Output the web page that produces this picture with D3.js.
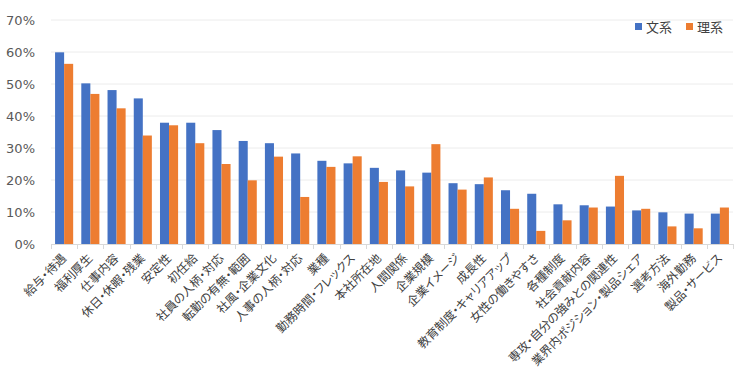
<!DOCTYPE html>
<html>
<head>
<meta charset="utf-8">
<script src="https://cdn.jsdelivr.net/npm/d3@7"></script>
<style>
  body { margin: 0; background: #fff; }
  svg { display: block; }
  .xlab { font-feature-settings: "palt"; }
</style>
</head>
<body>
<svg width="750" height="392"></svg>
<script>
// categories and values (%)
var categories = ["給与・待遇", "福利厚生", "仕事内容", "休日・休暇・残業", "安定性", "初任給",
  "社員の人柄・対応", "転勤の有無・範囲", "社風・企業文化", "人事の人柄・対応", "業種",
  "勤務時間・フレックス", "本社所在地", "人間関係", "企業規模", "企業イメージ", "成長性",
  "教育制度・キャリアアップ", "女性の働きやすさ", "各種制度", "社会貢献内容",
  "専攻・自分の強みとの関連性", "業界内ポジション・製品シェア", "選考方法", "海外勤務", "製品・サービス"];
var bunkei = [59.9, 50.2, 48.1, 45.5, 37.9, 37.9, 35.6, 32.2, 31.5, 28.3, 26.0, 25.2, 23.8,
  23.0, 22.3, 19.0, 18.7, 16.8, 15.7, 12.4, 12.1, 11.7, 10.5, 9.9, 9.5, 9.5];
var rikei = [56.3, 46.9, 42.4, 33.9, 37.1, 31.5, 25.0, 19.9, 27.3, 14.7, 24.1, 27.4, 19.4,
  18.0, 31.2, 17.0, 20.8, 11.0, 4.1, 7.4, 11.4, 21.3, 11.0, 5.5, 4.9, 11.4];
var seriesNames = ["文系", "理系"];
var colors = ["#4472c4", "#ed7d31"];
var yTicks = [0, 10, 20, 30, 40, 50, 60, 70];

var svg = d3.select("svg"),
  margin = {left: 51, right: 17, top: 20, bottom: 148};
var width = 750 - margin.left - margin.right,
  height = 392 - margin.top - margin.bottom;

var g = svg.append("g").attr("transform", "translate(" + margin.left + "," + margin.top + ")");

var x = d3.scaleBand().domain(categories).range([0, width]).paddingInner(0.31).paddingOuter(0.155);
var x1 = d3.scaleBand().domain(seriesNames).range([0, x.bandwidth()]);
var y = d3.scaleLinear().domain([0, 70]).range([height, 0]);

// gridlines
g.append("g").selectAll("line").data(yTicks.slice(1)).enter().append("line")
  .attr("x1", 0).attr("x2", width)
  .attr("y1", function(d) { return y(d); }).attr("y2", function(d) { return y(d); })
  .attr("stroke", "#ececec").attr("stroke-width", 1);

// y labels
g.append("g").selectAll("text").data(yTicks).enter().append("text")
  .attr("x", -16).attr("y", function(d) { return y(d); })
  .attr("dy", "0.35em").attr("text-anchor", "end")
  .attr("font-family", "DejaVu Sans, Verdana, sans-serif").attr("font-size", 13)
  .attr("fill", "#595959")
  .text(function(d) { return d + "%"; });

// bars
var groups = g.append("g").selectAll("g").data(categories).enter().append("g")
  .attr("transform", function(d) { return "translate(" + x(d) + ",0)"; });
groups.selectAll("rect").data(function(d, i) {
    return [{s: seriesNames[0], v: bunkei[i]}, {s: seriesNames[1], v: rikei[i]}];
  }).enter().append("rect")
  .attr("x", function(d) { return x1(d.s); })
  .attr("width", x1.bandwidth())
  .attr("y", function(d) { return y(d.v); })
  .attr("height", function(d) { return height - y(d.v); })
  .attr("fill", function(d, i) { return colors[i]; });

// x axis line and ticks between categories
g.append("line").attr("x1", 0).attr("x2", width).attr("y1", height + 0.5).attr("y2", height + 0.5)
  .attr("stroke", "#d9d9d9");
var step = x.step();
g.append("g").selectAll("line").data(d3.range(categories.length + 1)).enter().append("line")
  .attr("x1", function(i) { return Math.round(i * step) + 0.5; })
  .attr("x2", function(i) { return Math.round(i * step) + 0.5; })
  .attr("y1", height).attr("y2", height + 5)
  .attr("stroke", "#d9d9d9");

// x labels rotated
g.append("g").selectAll("text").data(categories).enter().append("text")
  .attr("class", "xlab")
  .attr("transform", function(d) {
    return "translate(" + (x(d) + x.bandwidth() / 2 + 3) + "," + (height + 15) + ") rotate(-45)";
  })
  .attr("text-anchor", "end")
  .attr("font-family", "Noto Sans CJK JP, sans-serif").attr("font-size", 12)
  .attr("fill", "#404040")
  .text(function(d) { return d; });

// legend
var legend = svg.append("g").attr("transform", "translate(635,21)");
seriesNames.forEach(function(s, i) {
  var lg = legend.append("g").attr("transform", "translate(" + (i * 51) + ",0)");
  lg.append("rect").attr("width", 7).attr("height", 7).attr("y", 2).attr("fill", colors[i]);
  lg.append("text").attr("x", 11).attr("y", 6).attr("dy", "0.35em")
    .attr("font-family", "Noto Sans CJK JP, sans-serif").attr("font-size", 13)
    .attr("fill", "#404040").text(s);
});
</script>
</body>
</html>
